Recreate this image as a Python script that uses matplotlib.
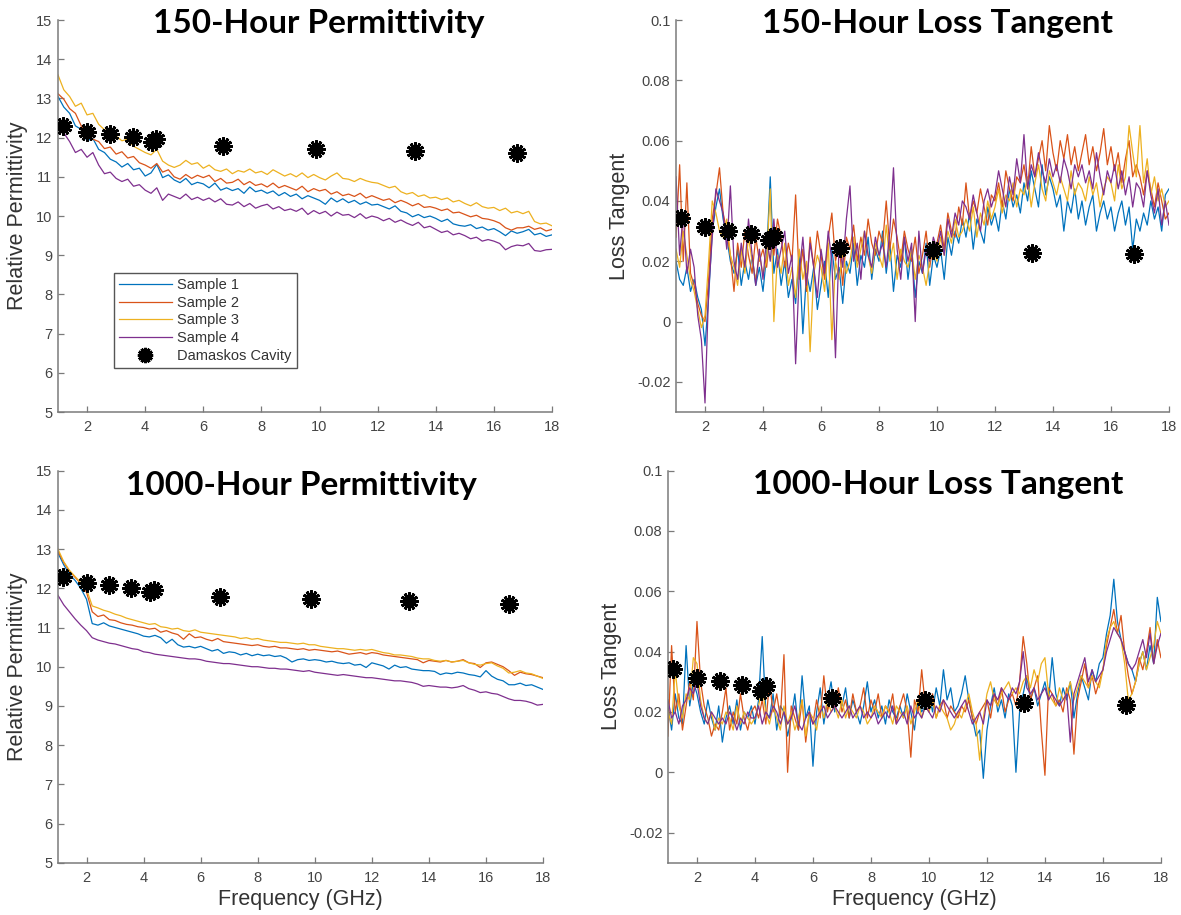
import numpy as np
import matplotlib
matplotlib.use("Agg")
import matplotlib.pyplot as plt

plt.rcParams['font.family'] = ['Liberation Sans', 'DejaVu Sans']
plt.rcParams['axes.unicode_minus'] = False

CORES = ['#0072BD', '#D95319', '#EDB120', '#7E2F8E']
NOMES = ['Sample 1', 'Sample 2', 'Sample 3', 'Sample 4']

# Damaskos cavity points (same in all panels)
cav_f = [1.18, 2.0, 2.78, 3.57, 4.22, 4.38, 6.67, 9.87, 13.29, 16.81]
cav_eps = [12.29, 12.14, 12.09, 12.02, 11.90, 11.96, 11.78, 11.72, 11.67, 11.61]
cav_tan = [0.0343, 0.0312, 0.0301, 0.0290, 0.0270, 0.0285, 0.0245, 0.0238, 0.0229, 0.0223]

# --- 150 h permittivity, 5 points per GHz (1.0 ... 18.0) ---
eps150_s1 = [13.05, 12.78, 12.62, 12.30, 12.21, 11.92, 11.98, 11.70, 11.62, 11.45,
             11.38, 11.25, 11.34, 11.18, 11.22, 11.02, 11.10, 11.32, 10.98, 11.05,
             10.92, 10.85, 10.96, 10.80, 10.86, 10.82, 10.72, 10.84, 10.66, 10.72,
             10.65, 10.70, 10.58, 10.74, 10.62, 10.66, 10.58, 10.64, 10.52, 10.60,
             10.50, 10.56, 10.44, 10.52, 10.46, 10.40, 10.30, 10.46, 10.36, 10.44,
             10.34, 10.40, 10.30, 10.36, 10.28, 10.30, 10.24, 10.18, 10.26, 10.12,
             10.08, 9.98, 10.04, 9.96, 10.00, 9.94, 9.86, 9.92, 9.80, 9.76,
             9.74, 9.78, 9.68, 9.72, 9.64, 9.68, 9.60, 9.50, 9.62, 9.56,
             9.60, 9.66, 9.52, 9.56, 9.48, 9.52]
eps150_s2 = [13.12, 12.98, 12.74, 12.62, 12.30, 12.12, 11.96, 11.90, 11.72, 11.76,
             11.58, 11.64, 11.48, 11.52, 11.36, 11.30, 11.22, 11.34, 11.12, 11.18,
             11.00, 10.94, 11.06, 10.96, 11.04, 10.98, 11.04, 10.88, 10.96, 10.84,
             10.86, 10.94, 10.80, 10.88, 10.78, 10.82, 10.74, 10.84, 10.72, 10.78,
             10.72, 10.66, 10.76, 10.62, 10.70, 10.64, 10.68, 10.56, 10.62, 10.52,
             10.56, 10.50, 10.58, 10.46, 10.52, 10.46, 10.40, 10.44, 10.34, 10.40,
             10.34, 10.26, 10.32, 10.22, 10.24, 10.20, 10.14, 10.18, 10.08, 10.10,
             10.04, 9.98, 10.02, 9.94, 9.92, 9.88, 9.82, 9.70, 9.64, 9.70,
             9.70, 9.74, 9.66, 9.70, 9.62, 9.66]
eps150_s3 = [13.60, 13.22, 13.05, 12.80, 12.88, 12.58, 12.62, 12.34, 12.20, 12.16,
             12.04, 11.92, 11.96, 11.78, 11.70, 11.62, 11.56, 11.70, 11.40, 11.30,
             11.24, 11.30, 11.42, 11.32, 11.36, 11.22, 11.30, 11.18, 11.14, 11.20,
             11.08, 11.16, 11.12, 11.20, 11.10, 11.14, 11.06, 11.18, 11.10, 11.02,
             11.08, 11.00, 11.10, 10.98, 11.06, 10.98, 10.92, 11.02, 11.10, 10.96,
             10.94, 10.88, 10.96, 10.90, 10.86, 10.84, 10.78, 10.72, 10.76, 10.62,
             10.56, 10.60, 10.50, 10.54, 10.46, 10.48, 10.42, 10.46, 10.36, 10.40,
             10.32, 10.26, 10.34, 10.24, 10.20, 10.22, 10.14, 10.20, 10.08, 10.12,
             10.06, 10.12, 9.86, 9.80, 9.82, 9.75]
eps150_s4 = [12.32, 12.12, 11.90, 11.62, 11.70, 11.50, 11.62, 11.30, 11.08, 11.12,
             10.96, 10.88, 10.94, 10.76, 10.80, 10.66, 10.58, 10.72, 10.40, 10.56,
             10.50, 10.44, 10.56, 10.42, 10.48, 10.40, 10.46, 10.36, 10.44, 10.30,
             10.28, 10.36, 10.24, 10.32, 10.20, 10.26, 10.30, 10.18, 10.24, 10.14,
             10.18, 10.12, 10.20, 10.04, 10.14, 10.06, 10.12, 10.00, 10.10, 10.02,
             10.04, 9.96, 10.06, 9.94, 10.00, 9.96, 9.88, 9.94, 9.84, 9.90,
             9.82, 9.76, 9.84, 9.70, 9.74, 9.66, 9.58, 9.62, 9.52, 9.56,
             9.50, 9.42, 9.46, 9.36, 9.40, 9.36, 9.30, 9.14, 9.22, 9.26,
             9.24, 9.30, 9.12, 9.10, 9.14, 9.15]

# --- 1000 h permittivity, 5 points per GHz ---
eps1000_s1 = [12.90, 12.60, 12.36, 12.20, 12.00, 11.72, 11.10, 11.06, 11.12, 11.04,
              11.00, 10.96, 10.92, 10.88, 10.84, 10.78, 10.76, 10.80, 10.74, 10.60,
              10.70, 10.56, 10.50, 10.52, 10.48, 10.52, 10.46, 10.40, 10.44, 10.34,
              10.38, 10.36, 10.30, 10.34, 10.28, 10.32, 10.28, 10.30, 10.26, 10.28,
              10.22, 10.12, 10.18, 10.20, 10.16, 10.18, 10.16, 10.12, 10.14, 10.10,
              10.08, 10.10, 10.04, 10.06, 9.98, 10.10, 10.06, 10.02, 9.94, 10.04,
              9.98, 10.00, 9.94, 9.92, 9.90, 9.90, 9.88, 9.80, 9.84, 9.82,
              9.86, 9.84, 9.80, 9.78, 9.74, 9.90, 9.76, 9.68, 9.64, 9.54,
              9.54, 9.58, 9.52, 9.54, 9.48, 9.42]
eps1000_s2 = [12.95, 12.66, 12.44, 12.28, 12.12, 11.90, 11.40, 11.28, 11.32, 11.20,
              11.18, 11.12, 11.08, 11.06, 11.02, 11.00, 10.96, 10.98, 10.88, 10.92,
              10.86, 10.82, 10.70, 10.84, 10.74, 10.76, 10.70, 10.66, 10.72, 10.64,
              10.62, 10.60, 10.58, 10.56, 10.54, 10.56, 10.52, 10.50, 10.52, 10.48,
              10.48, 10.46, 10.44, 10.46, 10.42, 10.44, 10.42, 10.40, 10.38, 10.40,
              10.36, 10.32, 10.34, 10.36, 10.32, 10.36, 10.34, 10.30, 10.28, 10.26,
              10.24, 10.22, 10.20, 10.18, 10.10, 10.16, 10.14, 10.12, 10.16, 10.12,
              10.14, 10.18, 10.10, 10.08, 9.98, 10.10, 10.12, 10.06, 10.00, 9.90,
              9.78, 9.86, 9.82, 9.80, 9.76, 9.72]
eps1000_s3 = [13.00, 12.68, 12.46, 12.30, 12.14, 11.98, 11.55, 11.50, 11.44, 11.40,
              11.34, 11.30, 11.24, 11.20, 11.16, 11.12, 11.08, 11.10, 11.02, 11.00,
              10.96, 10.98, 10.92, 10.90, 10.94, 10.88, 10.86, 10.84, 10.82, 10.80,
              10.78, 10.76, 10.72, 10.74, 10.70, 10.72, 10.68, 10.66, 10.64, 10.62,
              10.62, 10.60, 10.58, 10.60, 10.56, 10.56, 10.52, 10.50, 10.48, 10.46,
              10.46, 10.44, 10.42, 10.44, 10.42, 10.44, 10.40, 10.36, 10.34, 10.30,
              10.30, 10.28, 10.26, 10.22, 10.20, 10.20, 10.16, 10.14, 10.16, 10.12,
              10.14, 10.16, 10.10, 10.06, 10.04, 10.08, 10.10, 10.02, 9.96, 9.84,
              9.86, 9.90, 9.84, 9.82, 9.76, 9.70]
eps1000_s4 = [11.82, 11.58, 11.40, 11.22, 11.06, 10.92, 10.74, 10.68, 10.64, 10.60,
              10.58, 10.54, 10.50, 10.46, 10.44, 10.38, 10.36, 10.32, 10.30, 10.28,
              10.26, 10.24, 10.22, 10.20, 10.20, 10.18, 10.14, 10.12, 10.10, 10.08,
              10.08, 10.06, 10.04, 10.02, 10.00, 10.00, 9.98, 9.96, 9.96, 9.94,
              9.94, 9.92, 9.90, 9.88, 9.90, 9.86, 9.84, 9.82, 9.80, 9.78,
              9.80, 9.78, 9.76, 9.74, 9.72, 9.72, 9.70, 9.68, 9.66, 9.64,
              9.64, 9.62, 9.60, 9.56, 9.50, 9.52, 9.50, 9.48, 9.48, 9.46,
              9.48, 9.52, 9.44, 9.40, 9.34, 9.36, 9.32, 9.30, 9.24, 9.18,
              9.14, 9.14, 9.12, 9.08, 9.02, 9.04]

# --- 150 h loss tangent, x1000, 8 points per GHz ---
tan150_s1 = [20, 14, 12, 18, 10, 14, 8, 4,   -8, 8, 30, 38, 44, 34, 28, 20,
             16, 24, 12, 20, 14, 22, 12, 18,  10, 22, 48, 16, 24, 12, 20, 8,
             14, 6, 22, -4, 16, 10, 18, 4,    12, 20, 8, 24, 14, 18, 6, 20,
             16, 26, 12, 22, 18, 28, 14, 24,  20, 30, 16, 26, 10, 22, 18, 28,
             14, 24, 8, 20, 16, 26, 12, 22,   18, 24, 14, 28, 22, 30, 26, 34,
             28, 36, 24, 34, 30, 26, 38, 32,  36, 30, 40, 34, 44, 38, 42, 36,
             46, 40, 50, 44, 38, 52, 42, 48,  44, 38, 42, 30, 40, 36, 44, 34,
             40, 32, 38, 42, 30, 36, 40, 34,  38, 30, 36, 40, 32, 38, 24, 34,
             30, 36, 32, 40, 34, 38, 30, 42,  44]
tan150_s2 = [28, 52, 20, 46, 16, 12, 6, 2,    0, 14, 34, 42, 51, 36, 30, 22,
             10, 26, 18, 30, 22, 16, 28, 20,  24, 18, 30, 22, 34, 28, 18, 26,
             20, 42, 14, 24, 10, 28, 18, 30,  22, 14, 28, 36, 20, 26, 12, 28,
             24, 32, 20, 28, 22, 34, 26, 22,  30, 26, 40, 24, 34, 28, 20, 30,
             24, 20, 28, 16, 22, 30, 18, 26,  26, 32, 24, 36, 30, 28, 38, 32,
             46, 34, 40, 36, 44, 38, 32, 42,  40, 46, 38, 50, 44, 40, 48, 46,
             52, 44, 58, 48, 54, 60, 50, 65,  56, 50, 60, 54, 62, 52, 58, 50,
             56, 62, 52, 58, 50, 56, 64, 52,  58, 50, 56, 46, 54, 60, 48, 52,
             48, 42, 50, 44, 38, 46, 40, 34,  36]
tan150_s3 = [24, 18, 30, 22, 14, 10, 4, -2,   2, 20, 40, 36, 30, 28, 34, 22,
             18, 12, 24, 16, 28, 20, 14, 22,  16, 20, 44, 0, 22, 16, 26, 12,
             18, 8, 24, 14, 20, -10, 16, 22,  18, 10, 26, -6, 20, 14, 22, 16,
             20, 28, 18, 24, 30, 22, 16, 26,  22, 18, 32, 20, 26, 14, 24, 20,
             18, 24, 14, 22, 18, 12, 20, 24,  20, 28, 22, 30, 26, 34, 28, 30,
             34, 30, 38, 28, 36, 32, 40, 34,  38, 44, 36, 42, 40, 46, 38, 44,
             42, 48, 38, 46, 52, 44, 40, 50,  46, 42, 48, 44, 40, 50, 42, 46,
             44, 40, 48, 42, 46, 38, 44, 48,  46, 40, 52, 44, 48, 65, 56, 48,
             65, 46, 54, 42, 48, 40, 44, 38,  40]
tan150_s4 = [48, 22, 36, 16, 24, 18, 2, -6,   -27, 10, 28, 44, 40, 36, 24, 45,
             20, 14, 26, 18, 34, 22, 12, 24,  14, 28, 20, 34, 18, 24, 30, 16,
             22, -14, 16, 28, 12, 26, 18, 8,  24, 16, 30, 20, -12, 26, 18, 34,
             45, 20, 26, 14, 30, 22, 18, 28,  22, 26, 18, 30, 51, 24, 14, 28,
             20, 26, 0, 30, 16, 24, 20, 28,   24, 30, 22, 34, 28, 36, 32, 40,
             38, 34, 42, 36, 30, 40, 44, 38,  42, 50, 44, 38, 48, 42, 54, 46,
             62, 44, 52, 48, 56, 50, 46, 54,  48, 52, 46, 54, 50, 44, 52, 48,
             52, 46, 50, 44, 56, 48, 42, 50,  46, 52, 44, 50, 42, 48, 38, 46,
             44, 38, 50, 42, 36, 44, 32, 40,  32]

# --- 1000 h loss tangent, x1000, 8 points per GHz ---
tan1000_s1 = [22, 14, 26, 18, 16, 42, 22, 30,  26, 20, 16, 24, 18, 14, 22, 10,
              18, 22, 16, 24, 14, 20, 18, 22,  16, 24, 45, 20, 18, 26, 14, 22,
              20, 12, 18, 26, 14, 32, 18, 22,  2, 20, 28, 16, 24, 30, 20, 26,
              22, 28, 18, 24, 20, 16, 22, 30,  20, 24, 18, 22, 16, 24, 20, 18,
              22, 18, 26, 20, 14, 24, 20, 22,  26, 20, 28, 22, 34, 24, 28, 20,
              22, 26, 32, 24, 18, 12, 14, -2,  14, 22, 28, 20, 24, 18, 26, 22,
              0, 20, 26, 32, 24, 28, 22, 26,   30, 24, 38, 26, 22, 28, 24, 30,
              18, 26, 32, 28, 24, 34, 30, 36,  38, 46, 52, 64, 50, 44, 40, 36,
              34, 30, 36, 40, 34, 42, 36, 58,  50]
tan1000_s2 = [12, 42, 20, 26, 14, 22, 30, 24,  50, 30, 22, 18, 12, 16, 14, 20,
              28, 14, 20, 16, 26, 18, 14, 20,  22, 18, 24, 16, 30, 20, 26, 18,
              39, 0, 22, 18, 14, 24, 10, 20,   16, 24, 18, 32, 20, 26, 22, 28,
              20, 24, 18, 26, 20, 22, 28, 18,  24, 20, 26, 18, 22, 20, 26, 16,
              22, 26, 20, 5, 24, 20, 34, 22,   20, 26, 18, 22, 24, 18, 22, 20,
              18, 22, 20, 24, 18, 16, 20, 22,  24, 18, 26, 22, 28, 20, 24, 26,
              22, 30, 45, 36, 24, 28, 32, 14,  -1, 28, 26, 22, 24, 20, 28, 24,
              6, 24, 30, 36, 28, 32, 26, 30,   34, 42, 48, 54, 46, 52, 40, 32,
              26, 30, 38, 34, 40, 48, 36, 44,  38]
tan1000_s3 = [20, 16, 34, 22, 18, 26, 24, 38,  36, 24, 18, 16, 20, 14, 18, 16,
              20, 18, 14, 22, 16, 20, 18, 16,  18, 22, 28, 20, 16, 22, 18, 14,
              22, 16, 20, 14, 18, 24, 12, 20,  18, 14, 22, 18, 24, 20, 22, 18,
              24, 18, 22, 20, 18, 22, 20, 16,  18, 22, 20, 18, 22, 20, 16, 22,
              20, 18, 22, 16, 20, 24, 18, 22,  20, 24, 18, 22, 20, 18, 14, 16,
              20, 18, 22, 26, 20, 16, 4, 18,   26, 30, 24, 22, 26, 28, 30, 26,
              28, 26, 30, 32, 28, 34, 30, 36,  38, 26, 24, 22, 28, 24, 26, 30,
              24, 28, 32, 30, 28, 32, 30, 28,  34, 44, 48, 50, 46, 44, 36, 24,
              26, 30, 36, 40, 34, 38, 42, 50,  46]
tan1000_s4 = [24, 18, 20, 16, 22, 24, 28, 26,  30, 22, 18, 16, 20, 18, 16, 18,
              16, 20, 18, 14, 18, 16, 20, 18,  18, 22, 16, 20, 18, 22, 20, 16,
              20, 16, 18, 22, 16, 14, 18, 20,  16, 18, 20, 22, 18, 20, 22, 20,
              18, 20, 22, 18, 20, 22, 18, 20,  18, 20, 16, 18, 20, 18, 22, 16,
              18, 20, 16, 22, 18, 20, 18, 22,  20, 18, 22, 20, 24, 22, 20, 18,
              20, 22, 24, 20, 16, 18, 20, 16,  24, 22, 26, 24, 28, 26, 24, 28,
              26, 30, 40, 28, 26, 28, 24, 26,  28, 24, 26, 24, 22, 24, 26, 10,
              26, 30, 34, 38, 30, 34, 30, 32,  34, 40, 44, 48, 46, 44, 40, 36,
              34, 36, 40, 44, 38, 46, 36, 42,  46]

paineis = [
    ('150-Hour Permittivity', [0.0491, 0.5497, 0.4183, 0.4284], 'eps',
     [eps150_s1, eps150_s2, eps150_s3, eps150_s4], (0.270, 0.964)),
    ('150-Hour Loss Tangent', [0.5724, 0.5497, 0.4174, 0.4284], 'tan',
     [tan150_s1, tan150_s2, tan150_s3, tan150_s4], (0.794, 0.964)),
    ('1000-Hour Permittivity', [0.0491, 0.0571, 0.4107, 0.4285], 'eps',
     [eps1000_s1, eps1000_s2, eps1000_s3, eps1000_s4], (0.2555, 0.459)),
    ('1000-Hour Loss Tangent', [0.5656, 0.0571, 0.4174, 0.4285], 'tan',
     [tan1000_s1, tan1000_s2, tan1000_s3, tan1000_s4], (0.794, 0.460)),
]

CINZA = '#7a7a7a'
fig = plt.figure(figsize=(11.81, 9.15), dpi=100)

for i, (titulo, pos, tipo, series, tpos) in enumerate(paineis):
    ax = fig.add_axes(pos)
    for vals, cor, nome in zip(series, CORES, NOMES):
        v = np.array(vals, dtype=float)
        if tipo == 'tan':
            v = v / 1000.0
        f = np.linspace(1, 18, len(v))
        ax.plot(f, v, color=cor, lw=0.9, label=nome)
    cav_y = cav_eps if tipo == 'eps' else cav_tan
    ax.plot(cav_f, cav_y, linestyle='none', marker=(12, 2, 0), ms=13, mew=2.0,
            color='black', label='Damaskos Cavity', zorder=5)

    ax.set_xlim(1, 18)
    ax.set_xticks(range(2, 19, 2))
    if tipo == 'eps':
        ax.set_ylim(5, 15)
        ax.set_yticks(range(5, 16))
        ax.set_ylabel('Relative Permittivity', fontsize=15.5, color='#333333', labelpad=6)
    else:
        ax.set_ylim(-0.03, 0.1)
        ax.set_yticks([-0.02, 0, 0.02, 0.04, 0.06, 0.08, 0.1])
        ax.set_yticklabels(['-0.02', '0', '0.02', '0.04', '0.06', '0.08', '0.1'])
        ax.set_ylabel('Loss Tangent', fontsize=15.5, color='#333333', labelpad=5)
    if i >= 2:
        ax.set_xlabel('Frequency (GHz)', fontsize=15.5, color='#333333', labelpad=3)

    for lado in ['top', 'right']:
        ax.spines[lado].set_visible(False)
    for lado in ['left', 'bottom']:
        ax.spines[lado].set_color(CINZA)
        ax.spines[lado].set_linewidth(1.1)
    ax.tick_params(direction='in', length=4, width=0.9, color=CINZA,
                   labelsize=10.5, labelcolor='#444444')
    ax.tick_params(axis='x', pad=6)
    ax.tick_params(axis='y', pad=4)

    fig.text(tpos[0], tpos[1], titulo, ha='center', va='baseline', fontsize=24,
             fontweight='bold', family=['Lato', 'DejaVu Sans'])

    if i == 0:
        leg = ax.legend(loc='upper left', bbox_to_anchor=(0.0965, 0.7016),
                        bbox_transform=fig.transFigure, borderaxespad=0,
                        fontsize=10.5, handlelength=3.6, labelspacing=0.25,
                        fancybox=False, edgecolor='#555555', framealpha=1,
                        borderpad=0.35, handletextpad=0.4)
        leg.get_frame().set_linewidth(1.0)
        for t in leg.get_texts():
            t.set_color('#333333')
        leg.legend_handles[4].set_markersize(11)

fig.savefig('out.png', dpi=100)
